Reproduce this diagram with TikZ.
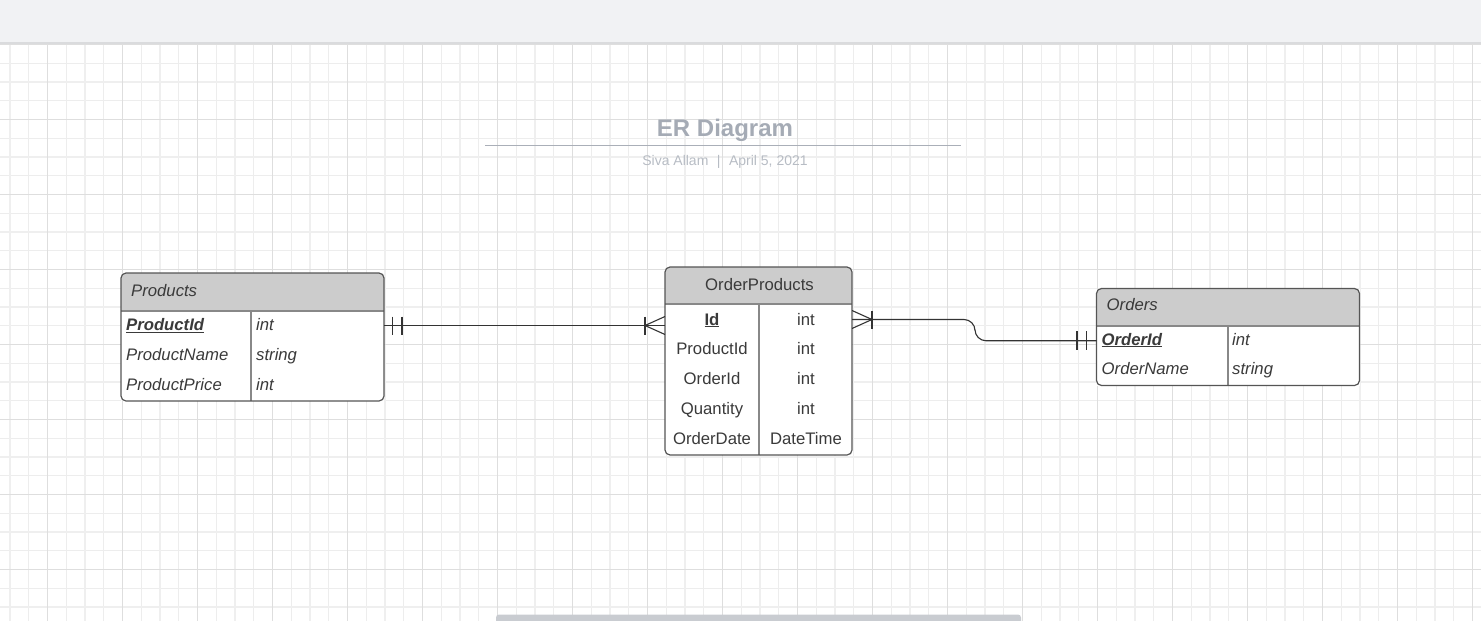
\documentclass[tikz,border=0pt]{standalone}
\usepackage{fontspec}
\setmainfont{Liberation Sans}
\definecolor{topbar}{HTML}{F1F2F4}
\definecolor{topshade}{HTML}{DADBDD}
\definecolor{gthinc}{HTML}{EDEDED}
\definecolor{gthickc}{HTML}{EFEFEF}
\definecolor{gdarkc}{HTML}{DEDEDE}
\definecolor{headfill}{HTML}{CCCCCC}
\definecolor{bordercol}{HTML}{555555}
\definecolor{innercol}{HTML}{888888}
\definecolor{txtcol}{HTML}{3A3A3A}
\definecolor{titlecol}{HTML}{A5ABB5}
\definecolor{subcol}{HTML}{B7BCC4}
\definecolor{rulecol}{HTML}{AAAFB8}
\definecolor{scrollcol}{HTML}{C9CCD1}
\definecolor{conncol}{HTML}{333333}
\begin{document}
\begin{tikzpicture}[x=1pt,y=-1pt,
  gthin/.style={draw=gthinc,line width=1pt},
  gthick/.style={draw=gthickc,line width=2pt},
  gdark/.style={draw=gdarkc,line width=1pt},
  tbl/.style={rectangle,fill=white,inner sep=0pt,outer sep=0pt},
  rowcell/.style={rectangle,inner sep=0pt,outer sep=0pt},
  border/.style={draw=bordercol,line width=1.2pt,rounded corners=5pt},
  inner/.style={draw=innercol,line width=1.1pt},
  txt/.style={font=\fontsize{16.7}{20}\selectfont,text=txtcol,inner sep=0pt,anchor=base west},
  ctxt/.style={font=\fontsize{16.7}{20}\selectfont,text=txtcol,inner sep=0pt,anchor=base},
  conn/.style={draw=conncol,line width=1.1pt}]
\useasboundingbox (0,0) rectangle (1481,621);
% grid
\foreach \k in {0,...,19}{
  \draw[gthin] ({28.75+75*\k},43) -- ({28.75+75*\k},621);
  \draw[gthin] ({66.25+75*\k},43) -- ({66.25+75*\k},621);
}
\foreach \k in {0,...,7}{
  \draw[gthin] (0,{63+75*\k}) -- (1481,{63+75*\k});
  \draw[gthin] (0,{100.5+75*\k}) -- (1481,{100.5+75*\k});
}
\foreach \k in {0,...,19}{
  \draw[gthick] ({10+75*\k},43) -- ({10+75*\k},621);
}
\foreach \k in {0,...,7}{
  \draw[gthick] (0,{81.75+75*\k}) -- (1481,{81.75+75*\k});
}
\foreach \k in {0,...,19}{
  \draw[gdark] ({47.5+75*\k},43) -- ({47.5+75*\k},621);
}
\foreach \k in {0,...,7}{
  \draw[gdark] (0,{44.25+75*\k}) -- (1481,{44.25+75*\k});
}
% top bar
\fill[topbar] (0,0) rectangle (1481,42.5);
\draw[topshade,line width=1.5pt] (0,43) -- (1481,43);
% scrollbar
\fill[scrollcol,rounded corners=3pt] (496,614.5) rectangle (1021,628);
% title
\node[font=\bfseries\fontsize{24}{28}\selectfont,text=titlecol,inner sep=0pt,anchor=base] (title) at (725,136.5) {ER Diagram};
\draw[rulecol,line width=1.6pt] (485,145.5) -- (961,145.5);
\node[font=\fontsize{14}{16}\selectfont,text=subcol,inner sep=0pt,anchor=base] (subtitle) at (725,165.5) {Siva Allam\kern8.5pt|\kern8.5pt April 5, 2021};

% ---------- Products ----------
\node[tbl,minimum width=263pt,minimum height=128pt,anchor=north west] (products) at (121,273) {};
\begin{scope}
  \clip[rounded corners=5pt] (products.north west) rectangle (products.south east);
  \fill[headfill] (products.north west) rectangle ([yshift=-38pt]products.north east);
\end{scope}
\draw[inner] ([yshift=-38pt]products.north west) -- ([yshift=-38pt]products.north east);
\draw[inner] (251,311) -- (251,401);
\draw[border] (products.north west) rectangle (products.south east);
\node[txt] (ph) at (131,296.7) {\itshape Products};
\node[rowcell,minimum width=263pt,minimum height=30pt,anchor=north west] (prow1) at (121,310.5) {};
\node[txt] (p1n) at (126,330.7) {\underline{\textbf{\textit{ProductId}}}};
\node[txt] (p1t) at (256,330.7) {\itshape int};
\node[txt] (p2n) at (126,360.7) {\itshape ProductName};
\node[txt] (p2t) at (256,360.7) {\itshape string};
\node[txt] (p3n) at (126,390.7) {\itshape ProductPrice};
\node[txt] (p3t) at (256,390.7) {\itshape int};

% ---------- OrderProducts ----------
\node[tbl,minimum width=187pt,minimum height=188pt,anchor=north west] (op) at (665,267) {};
\begin{scope}
  \clip[rounded corners=5pt] (op.north west) rectangle (op.south east);
  \fill[headfill] (op.north west) rectangle ([yshift=-37pt]op.north east);
\end{scope}
\draw[inner] ([yshift=-37pt]op.north west) -- ([yshift=-37pt]op.north east);
\draw[inner] (759,304) -- (759,455);
\draw[border] (op.north west) rectangle (op.south east);
\node[ctxt] (oph) at (759.5,290) {OrderProducts};
\node[rowcell,minimum width=187pt,minimum height=30pt,anchor=north west] (oprow1) at (665,304.5) {};
\node[ctxt] (o1n) at (712,325) {\underline{\textbf{Id}}};
\node[ctxt] (o1t) at (806,325) {int};
\node[ctxt] (o2n) at (712,354.5) {ProductId};
\node[ctxt] (o2t) at (806,354.5) {int};
\node[ctxt] (o3n) at (712,384.5) {OrderId};
\node[ctxt] (o3t) at (806,384.5) {int};
\node[ctxt] (o4n) at (712,414.5) {Quantity};
\node[ctxt] (o4t) at (806,414.5) {int};
\node[ctxt] (o5n) at (712,444.3) {OrderDate};
\node[ctxt] (o5t) at (806,444.3) {DateTime};

% ---------- Orders ----------
\node[tbl,minimum width=263pt,minimum height=97pt,anchor=north west] (orders) at (1096.5,288.5) {};
\begin{scope}
  \clip[rounded corners=5pt] (orders.north west) rectangle (orders.south east);
  \fill[headfill] (orders.north west) rectangle ([yshift=-37.5pt]orders.north east);
\end{scope}
\draw[inner] ([yshift=-37.5pt]orders.north west) -- ([yshift=-37.5pt]orders.north east);
\draw[inner] (1228,326) -- (1228,385.5);
\draw[border] (orders.north west) rectangle (orders.south east);
\node[txt] (orh) at (1106.5,310.7) {\itshape Orders};
\node[rowcell,minimum width=263pt,minimum height=29.5pt,anchor=north west] (orow1) at (1096.5,326) {};
\node[txt] (r1n) at (1101.5,345) {\underline{\textbf{\textit{OrderId}}}};
\node[txt] (r1t) at (1232,345) {\itshape int};
\node[txt] (r2n) at (1101.5,374.3) {\itshape OrderName};
\node[txt] (r2t) at (1232,374.3) {\itshape string};

% ---------- connectors ----------
\coordinate (c1) at (prow1.east -| op.west);
\draw[conn] (prow1.east) -- (c1);
\draw[conn] ([xshift=8.5pt,yshift=9pt]prow1.east) -- ([xshift=8.5pt,yshift=-9pt]prow1.east);
\draw[conn] ([xshift=18pt,yshift=9pt]prow1.east) -- ([xshift=18pt,yshift=-9pt]prow1.east);
\draw[conn] ([xshift=-20pt]c1) -- ([yshift=9pt]c1);
\draw[conn] ([xshift=-20pt]c1) -- ([yshift=-9pt]c1);
\draw[conn] ([xshift=-20pt,yshift=9pt]c1) -- ([xshift=-20pt,yshift=-9pt]c1);

\draw[conn,rounded corners=11pt] (oprow1.east) -- ++(123,0) |- (orow1.west);
\draw[conn] ([yshift=9pt]oprow1.east) -- ([xshift=20pt]oprow1.east);
\draw[conn] ([yshift=-9pt]oprow1.east) -- ([xshift=20pt]oprow1.east);
\draw[conn] ([xshift=20pt,yshift=9pt]oprow1.east) -- ([xshift=20pt,yshift=-9pt]oprow1.east);
\draw[conn] ([xshift=-19.5pt,yshift=9.5pt]orow1.west) -- ([xshift=-19.5pt,yshift=-9.5pt]orow1.west);
\draw[conn] ([xshift=-10pt,yshift=9.5pt]orow1.west) -- ([xshift=-10pt,yshift=-9.5pt]orow1.west);
\end{tikzpicture}
\end{document}
